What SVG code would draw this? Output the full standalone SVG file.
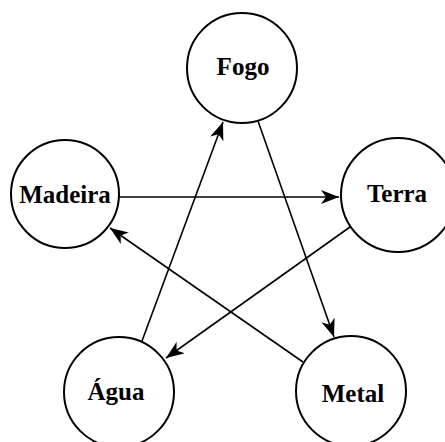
<svg xmlns="http://www.w3.org/2000/svg" width="445" height="442" viewBox="0 0 445 442">
<defs>
<style>
.node circle{fill:#fff;stroke:#000;stroke-width:2}
.node text{font-family:"Liberation Serif","DejaVu Serif",serif;font-weight:bold;font-size:25px;text-anchor:middle;fill:#000}
.edge{stroke:#000;stroke-width:1.6;fill:none;marker-end:url(#ah)}
</style>
<marker id="ah" markerWidth="20" markerHeight="14" refX="18" refY="7" orient="auto" markerUnits="userSpaceOnUse">
<path d="M0,0 L18,7 L0,14 L5,7 Z" fill="#000"/>
</marker>
</defs>
<rect width="445" height="442" fill="#fff"/>
<g id="connectors">
<line class="edge" x1="118" y1="197" x2="339" y2="197"/>
<line class="edge" x1="258" y1="121" x2="334" y2="337"/>
<line class="edge" x1="350" y1="227" x2="166" y2="358"/>
<line class="edge" x1="303" y1="362" x2="110" y2="228"/>
<line class="edge" x1="142" y1="341" x2="223" y2="122"/>
</g>
<g id="fogo" class="node"><circle cx="242" cy="68" r="55"/><text x="243" y="75">Fogo</text></g>
<g id="madeira" class="node"><circle cx="65" cy="194" r="54"/><text x="65" y="203">Madeira</text></g>
<g id="terra" class="node"><circle cx="398" cy="195" r="57"/><text x="397" y="202">Terra</text></g>
<g id="agua" class="node"><circle cx="119" cy="392" r="55"/><text x="116" y="400">Água</text></g>
<g id="metal" class="node"><circle cx="351" cy="391" r="55"/><text x="353" y="402">Metal</text></g>
</svg>
